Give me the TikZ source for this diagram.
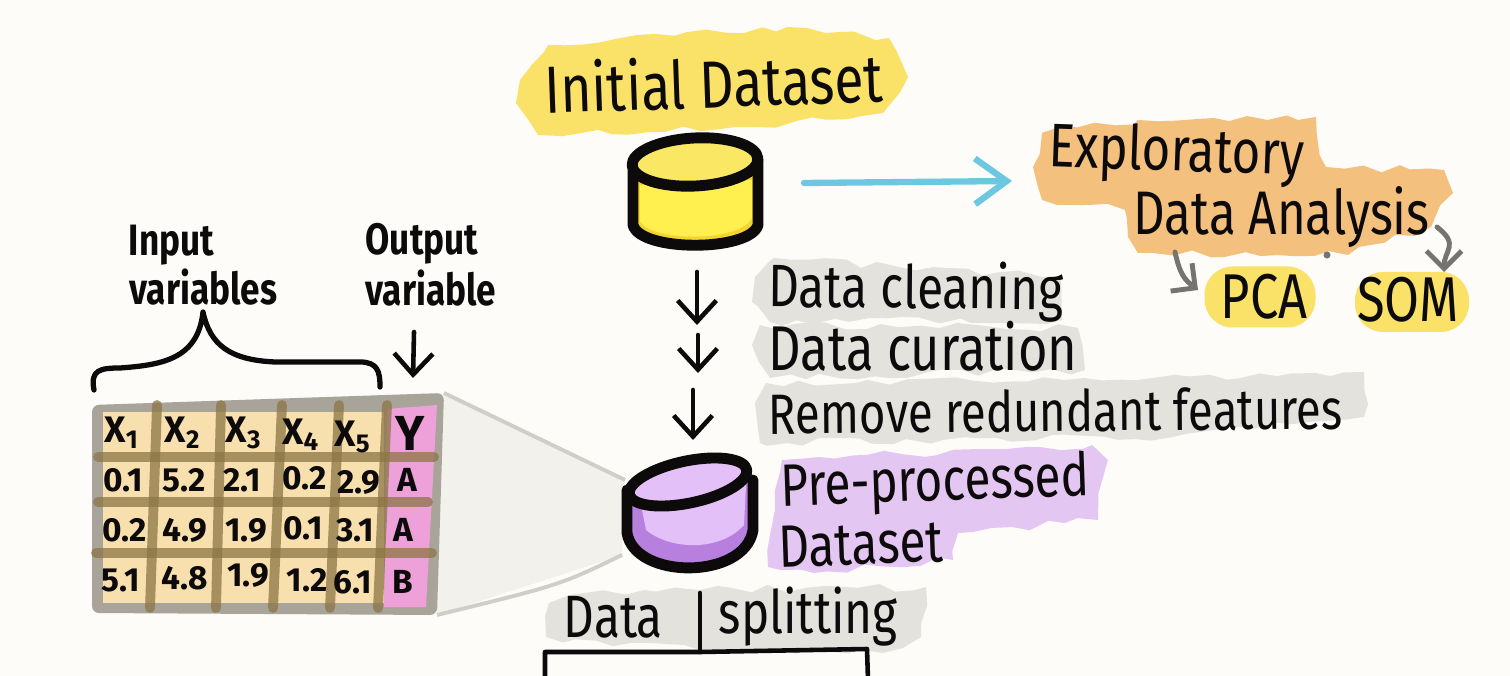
\documentclass[tikz,border=0pt]{standalone}
\usepackage{fontspec}
\setmainfont[FakeStretch=0.8]{Fira Sans}
\newfontfamily\cellfont{Fira Sans}
\usepackage{xcolor}
\usetikzlibrary{arrows.meta, positioning, calc, decorations.pathmorphing}
\definecolor{mypaper}{RGB}{253,252,248}
\definecolor{myink}{RGB}{12,10,10}
\definecolor{hdryellow}{RGB}{249,226,103}
\definecolor{hdrorange}{RGB}{244,192,126}
\definecolor{hdrgray}{RGB}{228,226,221}
\definecolor{hdrpurple}{RGB}{228,198,243}
\definecolor{cylyellow}{RGB}{255,240,80}
\definecolor{cylyellowlt}{RGB}{250,232,100}
\definecolor{cylyellowdk}{RGB}{245,212,50}
\definecolor{cylpurple}{RGB}{227,192,247}
\definecolor{cylpurpledk}{RGB}{183,128,222}
\definecolor{tabbeige}{RGB}{248,223,174}
\definecolor{tabpink}{RGB}{238,160,216}
\definecolor{tabgrid}{RGB}{140,118,70}
\definecolor{tabedge}{RGB}{168,164,154}
\definecolor{funnelfill}{RGB}{243,241,236}
\definecolor{funneledge}{RGB}{208,206,200}
\definecolor{myblue}{RGB}{108,200,224}
\definecolor{mygrayarrow}{RGB}{118,116,112}
\tikzset{
  hilite/.style={decorate, decoration={random steps, segment length=5pt, amplitude=1.2pt}},
  handbig/.style={font=\fontsize{19}{21}\selectfont, text=myink, inner sep=0pt},
  handmid/.style={font=\fontsize{17}{19}\selectfont, text=myink, inner sep=0pt},
  handsmall/.style={font=\fontsize{12.5}{14}\selectfont\bfseries, text=myink, inner sep=0pt},
  cellhead/.style={font=\cellfont\fontsize{10.5}{12}\selectfont\bfseries, text=myink, inner sep=0pt},
  cellnum/.style={font=\cellfont\fontsize{9.5}{11}\selectfont\bfseries, text=myink, inner sep=0pt},
  softblob/.style={fill=hdryellow, rounded corners=8pt, inner sep=0pt},
  inkline/.style={line width=1.3pt, color=myink, line cap=round, line join=round},
  downarrow/.style={inkline, -{Straight Barb[length=6pt, width=11pt, line width=1.3pt]}},
  cylstroke/.style={line width=3.1pt, draw=myink, line cap=round, line join=round},
  gridline/.style={line width=2.8pt, color=tabgrid, opacity=0.75, line cap=round},
  grayarrow/.style={line width=1.4pt, color=mygrayarrow, line cap=round, -{Straight Barb[length=5pt, width=10pt, line width=1.4pt]}}
}
\begin{document}
\begin{tikzpicture}[x=1cm, y=-1cm]
  \pgfmathsetseed{11}
  \useasboundingbox (0,0) rectangle (15.10,6.76);
  \fill[mypaper] (0,0) rectangle (15.10,6.76);

  % Highlights behind the labels
  \fill[hdryellow, hilite] (5.16,1.03) -- (5.20,0.80) -- (5.48,0.45) -- (7.87,0.27) -- (8.89,0.38) -- (9.08,0.77) -- (8.83,1.13) -- (7.55,1.27) -- (5.38,1.35) -- cycle;
  \fill[hdrorange, hilite] (10.33,1.67) -- (10.42,1.33) -- (11.38,1.20) -- (12.14,1.18) -- (13.16,1.17) -- (13.26,1.67) -- (14.44,1.70) -- (14.53,1.93) -- (14.31,2.27) -- (13.48,2.55) -- (11.38,2.53) -- (11.28,2.37) -- (11.25,2.10) -- (10.42,2.00) -- cycle;
  \fill[hdrgray, hilite] (7.52,3.02) -- (7.55,2.77) -- (7.74,2.58) -- (10.61,2.77) -- (10.62,3.20) -- (7.70,3.22) -- cycle;
  \fill[hdrgray, hilite] (7.52,3.45) -- (7.60,3.25) -- (10.78,3.28) -- (10.85,3.70) -- (7.70,3.78) -- cycle;
  \fill[hdrgray, hilite] (7.55,4.03) -- (7.66,3.83) -- (10.66,3.80) -- (13.64,3.72) -- (13.64,4.17) -- (11.73,4.37) -- (7.60,4.43) -- cycle;
  \fill[hdrpurple, hilite] (7.82,4.60) -- (10.92,4.45) -- (11.08,4.60) -- (10.98,5.20) -- (9.58,5.33) -- (9.53,5.60) -- (8.14,5.73) -- (7.68,5.67) -- (7.71,5.30) -- (7.75,4.90) -- cycle;
  \fill[hdrgray, hilite] (5.49,6.03) -- (5.70,5.95) -- (7.00,5.90) -- (9.26,5.87) -- (9.21,6.37) -- (8.83,6.53) -- (7.00,6.50) -- (5.46,6.37) -- cycle;

  % Funnel from the cylinder to the table
  \coordinate (fun_a) at (4.44,3.93);
  \coordinate (fun_b) at (6.25,4.80);
  \coordinate (fun_c) at (6.22,5.55);
  \coordinate (fun_d) at (4.37,6.15);
  \fill[funnelfill] (fun_a) -- (fun_b) -- (fun_c) -- (fun_d) -- cycle;
  \draw[funneledge, line width=1.1pt] (fun_a) -- (fun_b);
  \draw[funneledge, line width=1.1pt] (fun_c) .. controls (5.6,5.85) .. (fun_d);

  % Table
  \fill[tabedge, rounded corners=2pt] (0.92,4.05) -- (4.44,3.93) -- (4.37,6.15) -- (0.92,6.13) -- cycle;
  \fill[tabbeige] (1.03,4.12) -- (3.84,4.12) -- (3.84,6.03) -- (1.03,6.03) -- cycle;
  \fill[tabpink] (3.87,4.09) -- (4.37,4.05) -- (4.26,6.07) -- (3.84,6.07) -- cycle;
  \foreach \xa/\xb in {1.57/1.50, 2.21/2.16, 2.82/2.73, 3.39/3.30, 3.87/3.78} {
    \draw[gridline] (\xa,4.05) -- (\xb,6.08);
  }
  \draw[gridline] (0.98,4.57) -- (4.34,4.57);
  \draw[gridline] (0.98,5.02) -- (4.28,5.02);
  \draw[gridline] (0.96,5.53) -- (4.32,5.53);

  % Table header
  \foreach \x/\y/\nm/\lab in {1.22/4.33/xa/X\textsubscript{1}, 1.83/4.33/xb/X\textsubscript{2}, 2.44/4.33/xc/X\textsubscript{3}, 3.01/4.35/xd/X\textsubscript{4}, 3.53/4.37/xe/X\textsubscript{5}} {
    \node[cellhead] (\nm) at (\x,\y) {\lab};
  }
  \node[cellhead, font=\cellfont\fontsize{14}{15}\selectfont\bfseries] (yy) at (4.10,4.33) {Y};

  % Table rows
  \foreach \x/\y/\nm/\lab in {1.23/4.80/ra/0.1, 1.84/4.80/rb/5.2, 2.42/4.80/rc/2.1, 3.05/4.78/rd/0.2, 3.59/4.82/re/2.9, 4.07/4.80/rf/A,
                              1.25/5.30/sa/0.2, 1.85/5.30/sb/4.9, 2.46/5.30/sc/1.9, 3.03/5.28/sd/0.1, 3.55/5.30/se/3.1, 4.03/5.30/sf/A,
                              1.21/5.80/ta/5.1, 1.85/5.78/tb/4.8, 2.48/5.75/tc/1.9, 3.07/5.80/td/1.2, 3.53/5.82/te/6.1, 4.03/5.82/tf/B} {
    \node[cellnum] (\nm) at (\x,\y) {\lab};
  }

  % Labels above the table
  \node[handsmall, anchor=west] (inputa) at (1.28,2.45) {Input};
  \node[handsmall, anchor=west] (inputb) at (1.29,2.87) {variables};
  \node[handsmall, anchor=west] (outputa) at (3.65,2.44) {Output};
  \node[handsmall, anchor=west] (outputb) at (3.65,2.88) {variable};
  \draw[inkline, line width=1.5pt] (0.94,3.90) .. controls (0.90,3.70) and (1.00,3.68) .. (1.20,3.68) .. controls (1.60,3.65) and (1.98,3.60) .. (2.03,3.12) .. controls (2.10,3.45) and (2.30,3.60) .. (2.75,3.62) -- (3.60,3.62) .. controls (3.78,3.62) and (3.80,3.72) .. (3.80,3.87);
  \coordinate (out_a) at (4.14,3.32);
  \coordinate (out_b) at (4.13,3.78);
  \draw[downarrow] (out_a) -- (out_b);

  % Initial cylinder
  \fill[cylyellowdk] (6.33,1.70) -- (6.33,2.25) .. controls (6.40,2.52) and (7.50,2.52) .. (7.58,2.25) -- (7.58,1.70) -- cycle;
  \fill[cylyellow] (6.40,1.85) -- (6.40,2.22) .. controls (6.55,2.42) and (7.40,2.42) .. (7.52,2.18) -- (7.52,1.80) -- cycle;
  \fill[cylyellowlt] (6.95,1.62) ellipse [x radius=0.62cm, y radius=0.23cm];
  \draw[cylstroke] (6.33,1.70) -- (6.33,2.25) .. controls (6.40,2.52) and (7.50,2.52) .. (7.58,2.25) -- (7.58,1.60);
  \draw[cylstroke] (6.95,1.62) ellipse [x radius=0.63cm, y radius=0.24cm, rotate=3];

  % Arrows down from it
  \foreach \nm/\x/\ya/\yb in {one/6.97/2.72/3.25, two/6.98/3.35/3.73, three/6.93/3.90/4.40} {
    \coordinate (\nm_a) at (\x,\ya);
    \coordinate (\nm_b) at (\x,\yb);
    \draw[downarrow] (\nm_a) -- (\nm_b);
  }

  % Pre-processed cylinder
  \fill[cylpurpledk] (6.27,4.90) -- (6.27,5.33) .. controls (6.35,5.80) and (7.45,5.80) .. (7.53,5.30) -- (7.53,4.80) -- cycle;
  \fill[cylpurple] (6.40,5.00) -- (6.46,5.30) .. controls (6.70,5.50) and (7.20,5.52) .. (7.44,5.25) -- (7.46,4.85) -- cycle;
  \fill[cylpurple] (6.88,4.82) ellipse [x radius=0.58cm, y radius=0.20cm, rotate=12];
  \draw[cylstroke] (6.27,4.90) -- (6.27,5.33) .. controls (6.35,5.80) and (7.45,5.80) .. (7.53,5.30) -- (7.53,4.80);
  \draw[cylstroke] (6.88,4.82) ellipse [x radius=0.60cm, y radius=0.21cm, rotate=12];

  % Title labels
  \node[handbig, rotate=2] (initial) at (7.14,0.82) {Initial Dataset};
  \node[handmid, anchor=west, rotate=-0.5] (clean) at (7.68,2.90) {Data cleaning};
  \node[handmid, anchor=west, font=\fontsize{18}{19}\selectfont] (cure) at (7.68,3.46) {Data curation};
  \node[handmid, anchor=west, rotate=0.5, font=\fontsize{16.2}{18}\selectfont] (redund) at (7.68,4.13) {Remove redundant features};
  \node[handmid, anchor=west, rotate=2] (preproc) at (7.80,4.90) {Pre-processed};
  \node[handmid, anchor=west, rotate=2] (dataset) at (7.78,5.47) {Dataset};
  \node[handmid, anchor=west] (splita) at (5.63,6.17) {Data};
  \node[handmid, anchor=west] (splitb) at (7.18,6.17) {splitting};

  % Exploratory side
  \node[handmid, anchor=west, rotate=-2, font=\fontsize{17.5}{19}\selectfont] (explor) at (10.48,1.50) {Exploratory};
  \node[handmid, anchor=west, font=\fontsize{17.5}{19}\selectfont] (eda) at (11.33,2.17) {Data Analysis};
  \coordinate (blue_a) at (8.04,1.83);
  \coordinate (blue_b) at (10.12,1.81);
  \draw[line width=1.8pt, color=myblue, line cap=round, -{Straight Barb[length=9pt, width=13pt, line width=1.8pt]}] (blue_a) -- (blue_b);
  \node[softblob, minimum width=1.11cm, minimum height=0.61cm] (pca) at (12.60,2.97) {};
  \node[softblob, minimum width=1.14cm, minimum height=0.60cm] (som) at (14.12,3.02) {};
  \node[handmid, font=\fontsize{18}{19}\selectfont] (pcat) at (12.64,2.97) {PCA};
  \node[handmid, font=\fontsize{18}{19}\selectfont] (somt) at (14.08,3.00) {SOM};
  \coordinate (pca_a) at (11.75,2.52);
  \coordinate (pca_b) at (11.98,2.90);
  \coordinate (som_a) at (14.37,2.27);
  \coordinate (som_b) at (14.44,2.72);
  \draw[grayarrow] (pca_a) .. controls (11.80,2.75) and (11.85,2.80) .. (pca_b);
  \draw[grayarrow] (som_a) .. controls (14.60,2.45) and (14.44,2.50) .. (som_b);
  \fill[mygrayarrow] (13.27,2.55) circle (1pt);

  % Split lines
  \coordinate (split_top) at (7.00,5.93);
  \coordinate (split_mid) at (7.00,6.52);
  \coordinate (split_l) at (5.45,6.52);
  \coordinate (split_r) at (8.67,6.49);
  \draw[inkline] (split_top) -- (split_mid);
  \draw[inkline] (5.45,6.80) -- (split_l) -- (split_mid) -- (split_r) -- (8.68,6.80);
\end{tikzpicture}
\end{document}
